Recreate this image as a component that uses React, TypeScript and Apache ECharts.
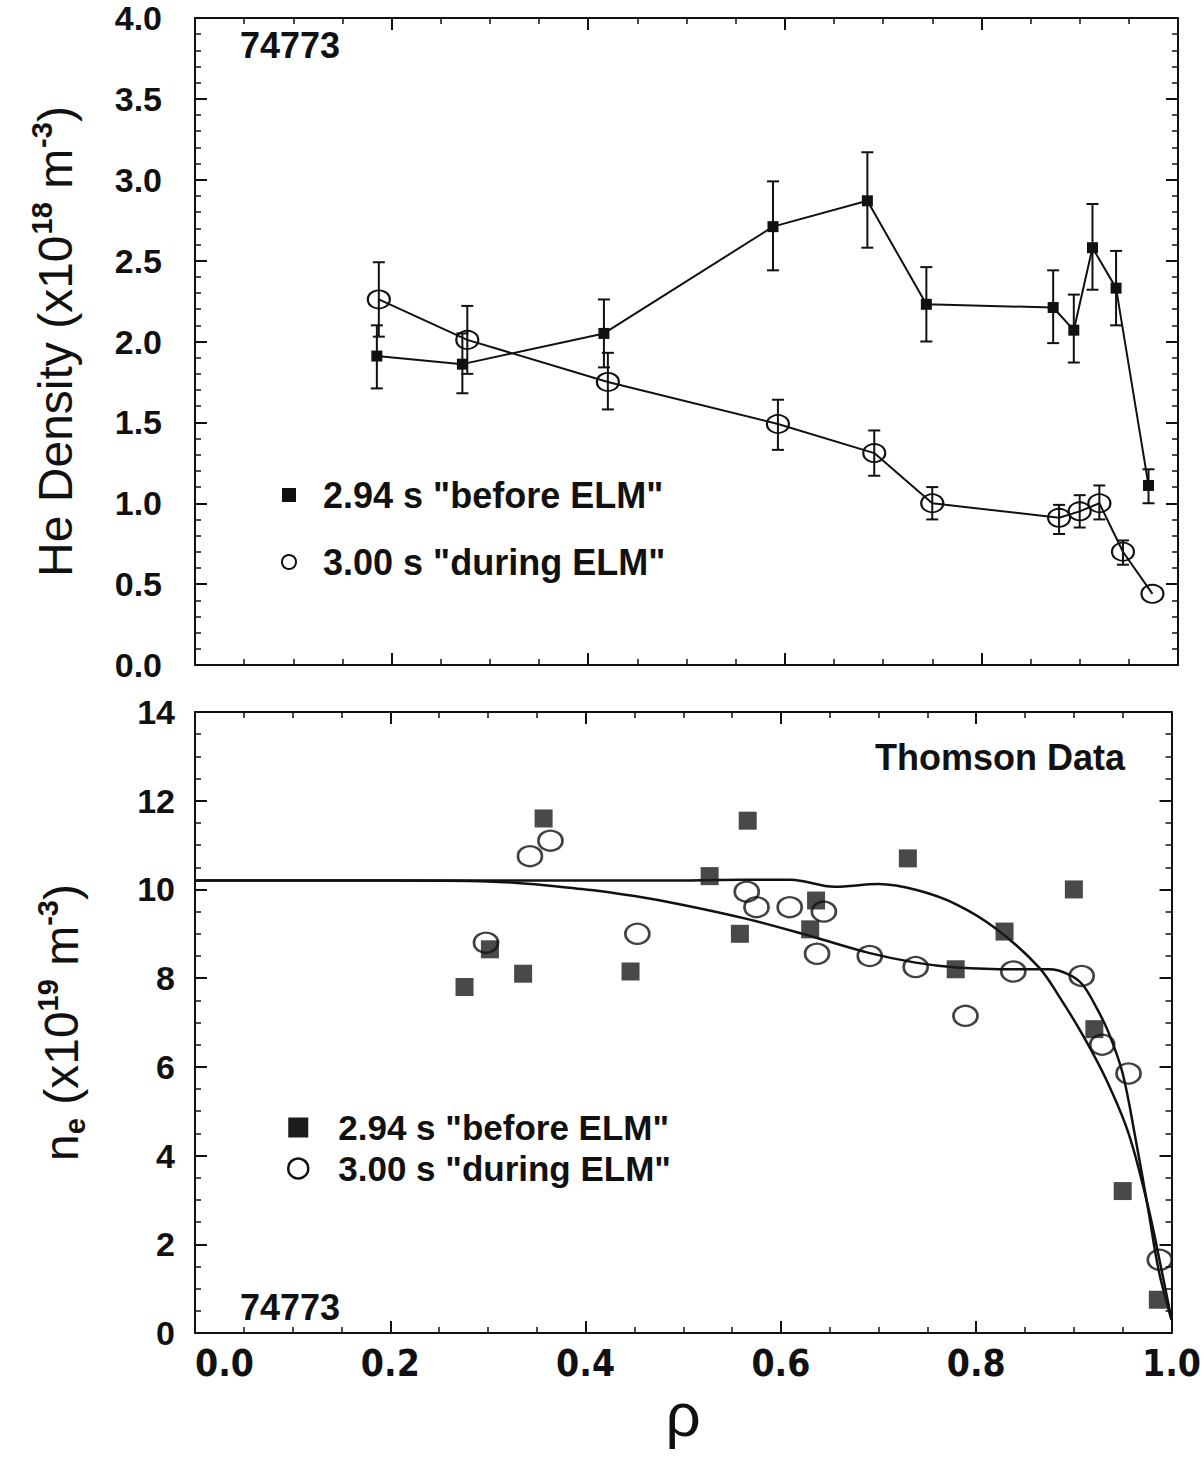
import React, { useEffect, useRef } from "react";
import * as echarts from "echarts";

// ---------- Top panel: He density (x10^18 m^-3) ----------
const heBeforeRho = [0.185, 0.272, 0.416, 0.588, 0.684, 0.744, 0.873, 0.894, 0.913, 0.937, 0.970];
const heBeforeVal = [1.91, 1.86, 2.05, 2.71, 2.87, 2.23, 2.21, 2.07, 2.58, 2.33, 1.11];
const heBeforeLo = [1.71, 1.68, 1.84, 2.44, 2.58, 2.00, 1.99, 1.87, 2.32, 2.10, 1.00];
const heBeforeHi = [2.10, 2.05, 2.26, 2.99, 3.17, 2.46, 2.44, 2.29, 2.85, 2.56, 1.21];

const heDuringRho = [0.187, 0.277, 0.420, 0.593, 0.691, 0.750, 0.879, 0.900, 0.920, 0.944, 0.974];
const heDuringVal = [2.26, 2.01, 1.75, 1.49, 1.31, 1.00, 0.91, 0.95, 1.00, 0.70, 0.44];
const heDuringLo = [2.03, 1.80, 1.58, 1.33, 1.17, 0.90, 0.81, 0.85, 0.90, 0.62, 0.44];
const heDuringHi = [2.49, 2.22, 1.93, 1.64, 1.45, 1.10, 0.99, 1.05, 1.11, 0.77, 0.44];

// ---------- Bottom panel: Thomson n_e (x10^19 m^-3) ----------
const neBeforeRho = [0.276, 0.302, 0.336, 0.357, 0.446, 0.527, 0.558, 0.566, 0.630, 0.636, 0.730, 0.779, 0.829, 0.900, 0.921, 0.950, 0.986];
const neBeforeVal = [7.8, 8.65, 8.1, 11.6, 8.15, 10.3, 9.0, 11.55, 9.1, 9.75, 10.7, 8.2, 9.05, 10.0, 6.85, 3.2, 0.75];

const neDuringRho = [0.298, 0.343, 0.364, 0.453, 0.565, 0.575, 0.609, 0.637, 0.644, 0.691, 0.738, 0.789, 0.838, 0.908, 0.929, 0.956, 0.988];
const neDuringVal = [8.8, 10.75, 11.1, 9.0, 9.95, 9.6, 9.6, 8.55, 9.5, 8.5, 8.25, 7.15, 8.15, 8.05, 6.5, 5.85, 1.65];

const fitBeforeRho = [0, 0.1, 0.2, 0.3, 0.4, 0.5, 0.56, 0.61, 0.655, 0.70, 0.74, 0.78, 0.82, 0.864, 0.886, 0.909, 0.933, 0.956, 0.976, 0.99, 1.0];
const fitBeforeVal = [10.2, 10.2, 10.2, 10.2, 10.2, 10.2, 10.22, 10.22, 10.06, 10.12, 9.98, 9.66, 9.12, 8.25, 7.55, 6.72, 5.72, 4.5, 2.85, 1.4, 0.3];

const fitDuringRho = [0, 0.1, 0.2, 0.3, 0.4, 0.45, 0.5, 0.566, 0.63, 0.69, 0.738, 0.78, 0.84, 0.875, 0.895, 0.909, 0.924, 0.936, 0.95, 0.963, 0.976, 0.987, 1.0];
const fitDuringVal = [10.2, 10.2, 10.2, 10.18, 10.0, 9.85, 9.65, 9.33, 8.95, 8.57, 8.35, 8.24, 8.2, 8.2, 8.08, 7.85, 7.3, 6.75, 5.85, 4.4, 2.8, 1.4, 0.3];

const BEFORE = '2.94 s "before ELM"';
const DURING = '3.00 s "during ELM"';

const FONT = '"Liberation Sans", Arial, Helvetica, sans-serif';
const NARROW = '"Liberation Sans Narrow", "DejaVu Sans Condensed", "Liberation Sans", Arial, sans-serif';
const INK = "#111";
const HOLLOW = "rgba(0,0,0,0)";

function frameAxis(gridIndex: number, position: string, min: number, max: number, interval: number, minorSplit: number, label?: any) {
  return {
    type: "value",
    gridIndex,
    position,
    min,
    max,
    interval,
    axisLine: { show: true, onZero: false, lineStyle: { color: INK, width: 2 } },
    axisTick: { show: true, inside: true, length: 12, lineStyle: { color: INK, width: 2 } },
    minorTick: { show: true, splitNumber: minorSplit, length: 6, lineStyle: { color: INK, width: 1.5 } },
    splitLine: { show: false },
    minorSplitLine: { show: false },
    axisLabel: label ? label : { show: false },
  };
}

function pairs(xs: number[], ys: number[]) {
  return xs.map((x, i) => [x, ys[i]]);
}

function errSeries(name: string, rho: number[], lo: number[], hi: number[]) {
  return {
    type: "custom",
    name,
    xAxisIndex: 0,
    yAxisIndex: 0,
    silent: true,
    z: 1,
    data: rho.map((r, i) => [r, lo[i], hi[i]]),
    encode: { x: 0, y: [1, 2] },
    renderItem: (params: any, api: any) => {
      const x = api.value(0);
      const l = api.value(1);
      const h = api.value(2);
      if (h - l < 1e-6) return { type: "group", children: [] };
      const a = api.coord([x, l]);
      const b = api.coord([x, h]);
      const w = 6;
      const st = { stroke: INK, lineWidth: 2 };
      return {
        type: "group",
        children: [
          { type: "line", shape: { x1: a[0], y1: a[1], x2: b[0], y2: b[1] }, style: st },
          { type: "line", shape: { x1: a[0] - w, y1: a[1], x2: a[0] + w, y2: a[1] }, style: st },
          { type: "line", shape: { x1: b[0] - w, y1: b[1], x2: b[0] + w, y2: b[1] }, style: st },
        ],
      };
    },
  };
}

export default function App() {
  const ref = useRef<HTMLDivElement>(null);

  useEffect(() => {
    if (!ref.current) return;
    const chart = echarts.init(ref.current, null, { renderer: "svg" });

    const tickLabelY = {
      show: true,
      color: INK,
      fontSize: 34,
      fontWeight: "bold",
      fontFamily: FONT,
      margin: 33,
    };

    const option: any = {
      animation: false,
      backgroundColor: "#fff",
      grid: [
        { left: 195, top: 18, width: 983, height: 647 },
        { left: 195, top: 712, width: 983, height: 621 },
      ],
      xAxis: [
        frameAxis(0, "bottom", 0, 1, 0.2, 4),
        frameAxis(0, "top", 0, 1, 0.2, 4),
        {
          ...frameAxis(1, "bottom", 0, 1, 0.2, 4, {
            show: true,
            color: INK,
            fontSize: 37,
            fontWeight: "bold",
            fontFamily: NARROW,
            margin: 12,
            alignMinLabel: "left",
            formatter: (v: number) => v.toFixed(1),
          }),
          name: "ρ",
          nameLocation: "middle",
          nameGap: 50,
          nameTextStyle: { fontSize: 62, fontFamily: FONT, color: INK },
        },
        frameAxis(1, "top", 0, 1, 0.2, 4),
      ],
      yAxis: [
        {
          ...frameAxis(0, "left", 0, 4, 0.5, 5, { ...tickLabelY, formatter: (v: number) => v.toFixed(1) }),
          name: "{a|He Density (x10}{s|18}{a| m}{s|-3}{a|)}",
          nameLocation: "middle",
          nameRotate: 90,
          nameGap: 116,
          nameTextStyle: {
            color: INK,
            rich: {
              a: { fontSize: 48, fontFamily: FONT, color: INK, lineHeight: 52, verticalAlign: "bottom" },
              s: { fontSize: 29, fontFamily: FONT, fontWeight: "bold", color: INK, lineHeight: 52, verticalAlign: "top", padding: [0, 0, 0, 1] },
            },
          },
        },
        frameAxis(0, "right", 0, 4, 0.5, 5),
        {
          ...frameAxis(1, "left", 0, 14, 2, 4, { ...tickLabelY, margin: 20 }),
          name: "{a|n}{b|e}{a| (x10}{s|19}{a| m}{s|-3}{a|)}",
          nameLocation: "middle",
          nameRotate: 90,
          nameGap: 106,
          nameTextStyle: {
            color: INK,
            rich: {
              a: { fontSize: 48, fontFamily: FONT, color: INK, lineHeight: 56, verticalAlign: "middle" },
              s: { fontSize: 29, fontFamily: FONT, fontWeight: "bold", color: INK, lineHeight: 56, verticalAlign: "top" },
              b: { fontSize: 29, fontFamily: FONT, fontWeight: "bold", color: INK, lineHeight: 56, verticalAlign: "bottom" },
            },
          },
        },
        frameAxis(1, "right", 0, 14, 2, 4),
      ],
      legend: [
        {
          left: 276,
          top: 472,
          orient: "vertical",
          itemGap: 31,
          itemWidth: 14,
          itemHeight: 14,
          selectedMode: false,
          textStyle: { fontSize: 36, fontWeight: "bold", fontFamily: FONT, color: INK, padding: [0, 0, 0, 22] },
          data: [
            { name: BEFORE, icon: "rect", itemStyle: { color: INK, borderWidth: 0 } },
            { name: DURING, icon: "circle", itemStyle: { color: HOLLOW, borderColor: INK, borderWidth: 2 } },
          ],
        },
        {
          left: 282,
          top: 1105,
          orient: "vertical",
          itemGap: 6,
          itemWidth: 20,
          itemHeight: 20,
          selectedMode: false,
          textStyle: { fontSize: 35, fontWeight: "bold", fontFamily: FONT, color: INK, padding: [0, 0, 0, 25] },
          data: [
            { name: BEFORE, icon: "rect", itemStyle: { color: "#1c1c1c", borderWidth: 0 } },
            { name: DURING, icon: "circle", itemStyle: { color: HOLLOW, borderColor: INK, borderWidth: 2.5 } },
          ],
        },
      ],
      graphic: [
        { type: "text", left: 240, top: 27, style: { text: "74773", fontSize: 36, fontWeight: "bold", fontFamily: FONT, fill: INK } },
        { type: "text", left: 240, top: 1289, style: { text: "74773", fontSize: 36, fontWeight: "bold", fontFamily: FONT, fill: INK } },
        { type: "text", right: 79, top: 739, style: { text: "Thomson Data", fontSize: 36, fontWeight: "bold", fontFamily: FONT, fill: INK } },
      ],
      series: [
        errSeries("He error before", heBeforeRho, heBeforeLo, heBeforeHi),
        errSeries("He error during", heDuringRho, heDuringLo, heDuringHi),
        {
          type: "line",
          name: BEFORE,
          xAxisIndex: 0,
          yAxisIndex: 0,
          data: pairs(heBeforeRho, heBeforeVal),
          symbol: "rect",
          symbolSize: 11,
          itemStyle: { color: INK },
          lineStyle: { color: INK, width: 2 },
          z: 3,
        },
        {
          type: "line",
          name: DURING,
          xAxisIndex: 0,
          yAxisIndex: 0,
          data: pairs(heDuringRho, heDuringVal),
          symbol: "circle",
          symbolSize: [22, 18],
          itemStyle: { color: HOLLOW, borderColor: INK, borderWidth: 2 },
          lineStyle: { color: INK, width: 2 },
          z: 3,
        },
        {
          type: "line",
          name: "Fit before ELM",
          xAxisIndex: 2,
          yAxisIndex: 2,
          data: pairs(fitBeforeRho, fitBeforeVal),
          showSymbol: false,
          symbol: "none",
          smooth: 0.35,
          lineStyle: { color: INK, width: 2.5 },
          z: 2,
        },
        {
          type: "line",
          name: "Fit during ELM",
          xAxisIndex: 2,
          yAxisIndex: 2,
          data: pairs(fitDuringRho, fitDuringVal),
          showSymbol: false,
          symbol: "none",
          smooth: 0.35,
          lineStyle: { color: INK, width: 2.5 },
          z: 2,
        },
        {
          type: "scatter",
          name: BEFORE,
          xAxisIndex: 2,
          yAxisIndex: 2,
          data: pairs(neBeforeRho, neBeforeVal),
          symbol: "rect",
          symbolSize: 18,
          itemStyle: { color: "#1c1c1c" },
          z: 4,
        },
        {
          type: "scatter",
          name: DURING,
          xAxisIndex: 2,
          yAxisIndex: 2,
          data: pairs(neDuringRho, neDuringVal),
          symbol: "circle",
          symbolSize: [24, 20],
          itemStyle: { color: HOLLOW, borderColor: INK, borderWidth: 2.5 },
          z: 5,
        },
      ],
    };

    chart.setOption(option);
    return () => chart.dispose();
  }, []);

  return (
    <div
      ref={ref}
      style={{ position: "absolute", left: 0, top: 0, width: 1204, height: 1462, background: "#fff" }}
    />
  );
}
